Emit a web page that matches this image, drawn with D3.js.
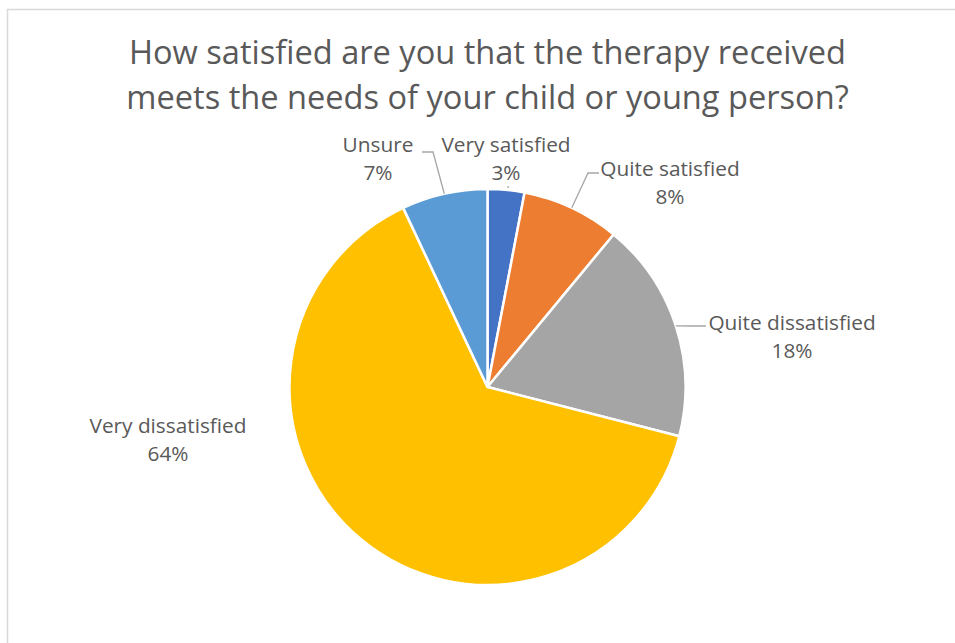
<!DOCTYPE html>
<html>
<head>
<meta charset="utf-8">
<script src="https://cdn.jsdelivr.net/npm/d3@7"></script>
<style>
  html, body { margin: 0; padding: 0; background: #fff; }
  svg { display: block; }
  text { font-family: "Open Sans", Lato, sans-serif; fill: #595959; }
</style>
</head>
<body>
<svg id="chart" width="955" height="643"></svg>
<script>
// Survey responses (percent of respondents)
const categories = ["Very satisfied", "Quite satisfied", "Quite dissatisfied", "Very dissatisfied", "Unsure"];
const values = [3, 8, 18, 64, 7];
const colors = ["#4472C4", "#ED7D31", "#A5A5A5", "#FFC000", "#5B9BD5"];
const titleLines = ["How satisfied are you that the therapy received", "meets the needs of your child or young person?"];

const svg = d3.select("#chart");
const W = 955, H = 643;

// chart frame
svg.append("rect")
  .attr("x", 7.5).attr("y", 9.5)
  .attr("width", W + 10).attr("height", H + 10)
  .attr("fill", "#fff").attr("stroke", "#d9d9d9").attr("stroke-width", 1.5);

// title
const title = svg.append("text").attr("text-anchor", "middle").attr("font-size", 32.6);
titleLines.forEach((t, i) => {
  title.append("tspan").attr("x", 487.5).attr("y", 64 + i * 45).text(t);
});

const cx = 487.5, cy = 387, R = 198;
const g = svg.append("g").attr("transform", `translate(${cx},${cy})`);

const pie = d3.pie().sort(null).value(d => d.value);
const arcs = pie(categories.map((c, i) => ({ name: c, value: values[i], color: colors[i] })));
const arc = d3.arc().innerRadius(0).outerRadius(R);

g.selectAll("path.slice")
  .data(arcs)
  .join("path")
  .attr("class", "slice")
  .attr("d", arc)
  .attr("fill", d => d.data.color)
  .attr("stroke", "#fff")
  .attr("stroke-width", 2.5)
  .attr("stroke-linejoin", "round");

// label placement: centre x and first-line baseline, plus leader-line bends
const labelPos = {
  "Very satisfied":     { x: 506, y: 152, elbow: null },
  "Quite satisfied":    { x: 670, y: 176, elbow: [588, 173], end: [599, 173] },
  "Quite dissatisfied": { x: 792, y: 330, elbow: [692, 326], end: [706, 326] },
  "Very dissatisfied":  { x: 168, y: 433, elbow: null },
  "Unsure":             { x: 378, y: 152, elbow: [433, 152], end: [422, 152] }
};

const pt = (a, r) => [cx + r * Math.sin(a), cy - r * Math.cos(a)];

// leader lines
arcs.forEach(d => {
  const p = labelPos[d.data.name];
  const mid = (d.startAngle + d.endAngle) / 2;
  const s = pt(mid, R);
  if (p.elbow) {
    svg.append("polyline")
      .attr("points", [s, p.elbow, p.end].map(q => q.join(",")).join(" "))
      .attr("fill", "none").attr("stroke", "#a6a6a6").attr("stroke-width", 1.3);
  } else if (d.data.name === "Very satisfied") {
    svg.append("line")
      .attr("x1", s[0] + 2).attr("y1", s[1] - 2)
      .attr("x2", s[0] + 2).attr("y2", s[1] - 4)
      .attr("stroke", "#a6a6a6").attr("stroke-width", 1.3);
  }
});

// data labels
arcs.forEach(d => {
  const p = labelPos[d.data.name];
  const t = svg.append("text").attr("text-anchor", "middle").attr("font-size", 20.8);
  t.append("tspan").attr("x", p.x).attr("y", p.y).text(d.data.name);
  t.append("tspan").attr("x", p.x).attr("y", p.y + 28).text(d3.format(".0%")(d.data.value / 100));
});
</script>
</body>
</html>
